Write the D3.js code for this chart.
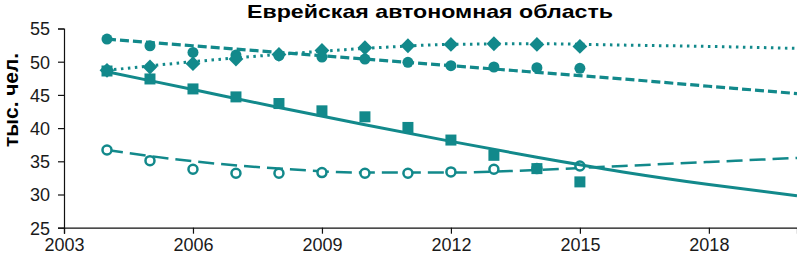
<!DOCTYPE html>
<html>
<head>
<meta charset="utf-8">
<script src="https://cdn.jsdelivr.net/npm/d3@7"></script>
<style>
  body { margin: 0; background: #fff; }
  svg text { font-family: "Liberation Sans", Arial, sans-serif; }
</style>
</head>
<body>
<div id="my_dataviz"></div>
<script>
// data //
const years = [2004, 2005, 2006, 2007, 2008, 2009, 2010, 2011, 2012, 2013, 2014, 2015];
const circleValues  = [53.4, 52.4, 51.4, 51.0, 50.9, 50.7, 50.4, 49.9, 49.4, 49.2, 49.1, 49.0];
const diamondValues = [48.7, 49.2, 49.7, 50.4, 51.1, 51.7, 52.1, 52.4, 52.6, 52.7, 52.6, 52.3];
const squareValues  = [48.6, 47.4, 45.9, 44.7, 43.7, 42.6, 41.7, 40.1, 38.2, 35.9, 33.9, 31.9];
const openValues    = [36.7, 35.1, 33.8, 33.2, 33.2, 33.3, 33.2, 33.2, 33.4, 33.8, 33.9, 34.3];

// trend lines
const trendYears    = [2004, 2006, 2008, 2010, 2012, 2014, 2016, 2018, 2020.05];
const circleTrend   = [53.4, 52.4, 51.4, 50.4, 49.4, 48.4, 47.4, 46.3, 45.2];
const diamondTrend  = [48.7, 50.0, 51.1, 52.0, 52.6, 52.7, 52.5, 52.3, 52.0];
const squareTrend   = [48.5, 45.8, 43.1, 40.5, 38.0, 35.6, 33.4, 31.5, 29.8];
const openTrend     = [36.7, 35.0, 33.9, 33.3, 33.3, 33.7, 34.3, 34.9, 35.5];

const xTicks = [2003, 2006, 2009, 2012, 2015, 2018];
const yTicks = [25, 30, 35, 40, 45, 50, 55];
const titleText = "Еврейская автономная область";
const yLabelText = "тыс. чел.";

const teal = "#12898b";

///set dimensions//////////////////////////////////////////////////
const W = 797, H = 257;
const margin = { top: 28.5, right: 0, bottom: H - 227.7, left: 64 };

const svg = d3.select("#my_dataviz").append("svg")
  .attr("width", W)
  .attr("height", H);

const x = d3.scaleLinear()
  .domain([2003, 2020.05])
  .range([margin.left, W - margin.right]);

const y = d3.scaleLinear()
  .domain([25, 55])
  .range([H - margin.bottom, margin.top]);

// X axis
const xAxis = svg.append("g")
  .attr("transform", `translate(0,${y(25)})`)
  .call(d3.axisBottom(x).tickValues(xTicks).tickFormat(d3.format("d")).tickSizeOuter(0).tickSize(6).tickPadding(5));

// Y axis
const yAxis = svg.append("g")
  .attr("transform", `translate(${x(2003)},0)`)
  .call(d3.axisLeft(y).tickValues(yTicks).tickSizeOuter(0).tickSize(6).tickPadding(8));

[xAxis, yAxis].forEach(g => {
  g.select(".domain").attr("stroke", "#111").attr("stroke-width", 1.2);
  g.selectAll(".tick line").attr("stroke", "#111").attr("stroke-width", 1.2);
  g.selectAll(".tick text").attr("fill", "#1a1a1a").style("font-size", "18px");
});
yAxis.selectAll(".tick text").attr("dy", "0.36em");

// title
svg.append("text")
  .attr("x", 430)
  .attr("y", 18)
  .attr("text-anchor", "middle")
  .attr("textLength", 366)
  .attr("lengthAdjust", "spacingAndGlyphs")
  .style("font-size", "19px")
  .style("font-weight", "bold")
  .attr("fill", "#000")
  .text(titleText);

// y label
svg.append("text")
  .attr("text-anchor", "middle")
  .attr("transform", "translate(18,100) rotate(-90)")
  .attr("textLength", 94)
  .attr("lengthAdjust", "spacingAndGlyphs")
  .style("font-size", "21px")
  .style("font-weight", "bold")
  .attr("fill", "#000")
  .text(yLabelText);

// lines
const line = d3.line()
  .x(d => x(d[0]))
  .y(d => y(d[1]))
  .curve(d3.curveMonotoneX);

function trend(vals) { return trendYears.map((yr, i) => [yr, vals[i]]); }
function pts(vals) { return years.map((yr, i) => [yr, vals[i]]); }

// open circles, long dashes
svg.append("path")
  .datum(trend(openTrend))
  .attr("fill", "none").attr("stroke", teal)
  .attr("stroke-width", 2.5).attr("stroke-dasharray", "16,7")
  .attr("d", line);
svg.append("g").selectAll("circle")
  .data(pts(openValues))
  .join("circle")
  .attr("cx", d => x(d[0])).attr("cy", d => y(d[1]))
  .attr("r", 4.5)
  .attr("fill", "#fff").attr("stroke", teal).attr("stroke-width", 2.5);

// squares, solid
svg.append("path")
  .datum(trend(squareTrend))
  .attr("fill", "none").attr("stroke", teal)
  .attr("stroke-width", 3)
  .attr("d", line);
svg.append("g").selectAll("rect")
  .data(pts(squareValues))
  .join("rect")
  .attr("x", d => x(d[0]) - 5.5).attr("y", d => y(d[1]) - 5.5)
  .attr("width", 11).attr("height", 11)
  .attr("fill", teal);

// filled circles, dashed
svg.append("path")
  .datum(trend(circleTrend))
  .attr("fill", "none").attr("stroke", teal)
  .attr("stroke-width", 3.2).attr("stroke-dasharray", "9,4")
  .attr("d", line);
svg.append("g").selectAll("circle")
  .data(pts(circleValues))
  .join("circle")
  .attr("cx", d => x(d[0])).attr("cy", d => y(d[1]))
  .attr("r", 5.5)
  .attr("fill", teal);

// diamonds, dotted
svg.append("path")
  .datum(trend(diamondTrend))
  .attr("fill", "none").attr("stroke", teal)
  .attr("stroke-width", 3).attr("stroke-dasharray", "2.5,4.5")
  .attr("d", line);
svg.append("g").selectAll("path.diamond")
  .data(pts(diamondValues))
  .join("path")
  .attr("class", "diamond")
  .attr("d", d3.symbol().type(d3.symbolDiamond2).size(140))
  .attr("transform", d => `translate(${x(d[0])},${y(d[1])})`)
  .attr("fill", teal);
</script>
</body>
</html>
